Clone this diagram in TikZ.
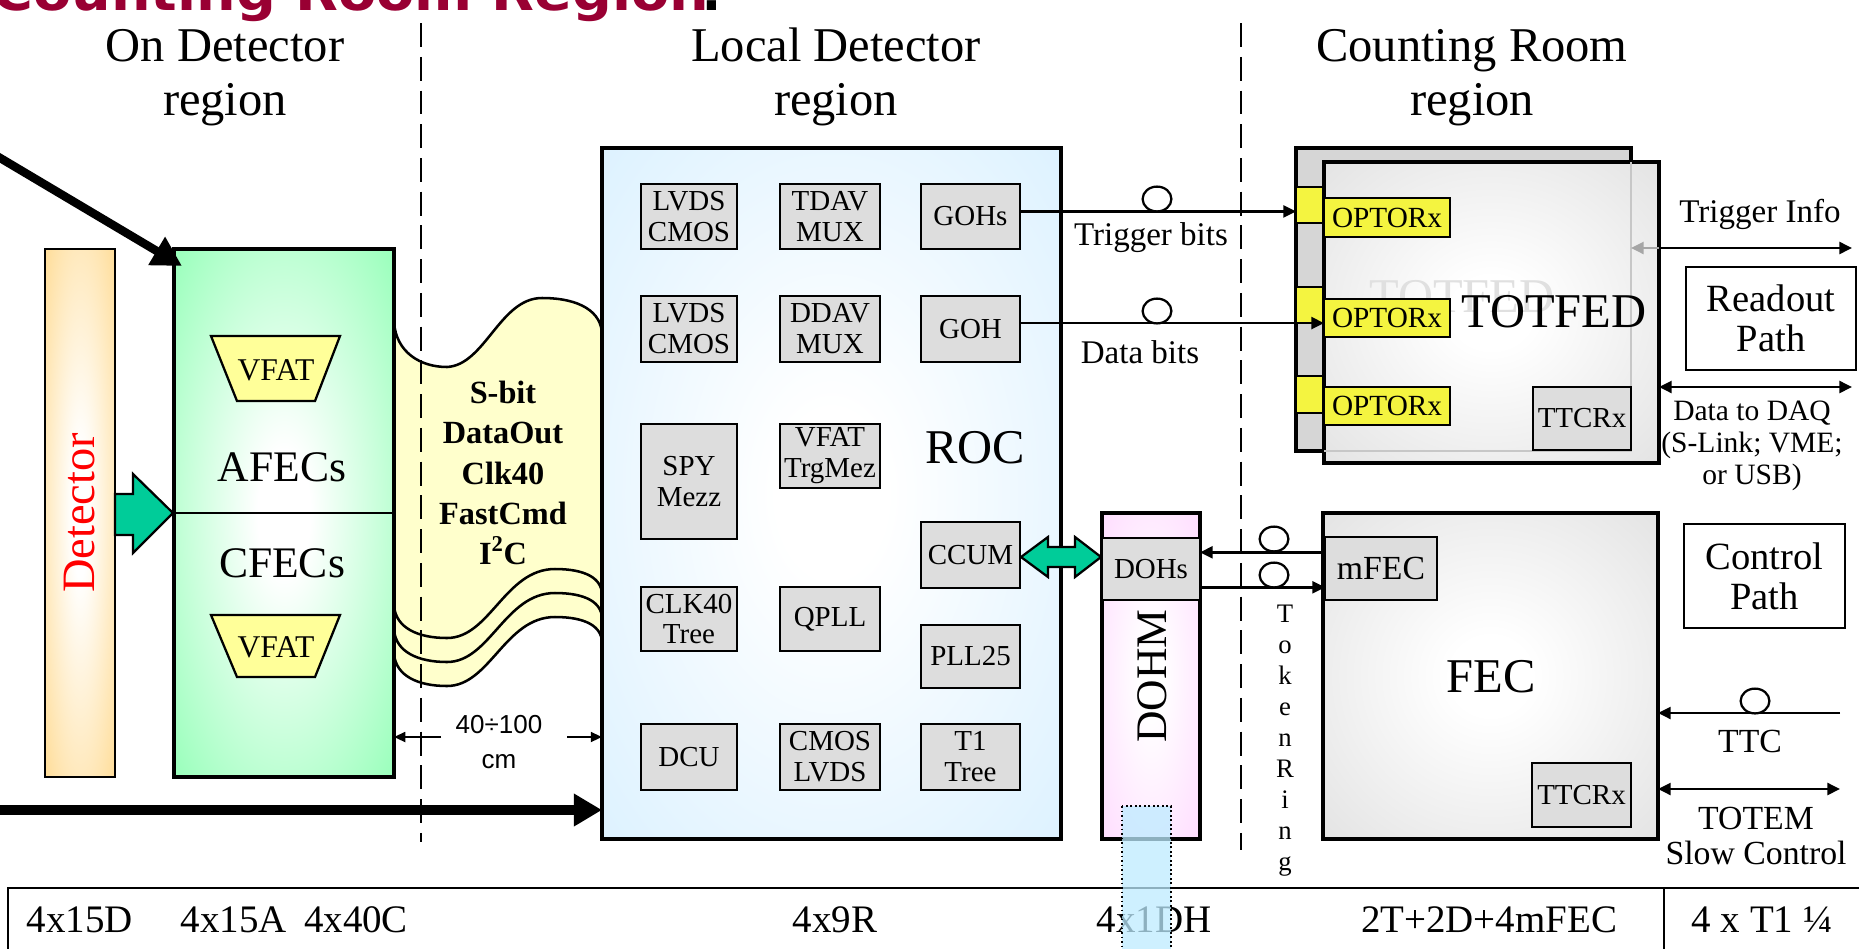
\documentclass[tikz,border=0pt]{standalone}
\usepackage{graphicx}
\usepackage{fontspec}
\setmainfont{Liberation Serif}
\setsansfont{Liberation Sans}
\newfontfamily\titlefont{DejaVu Sans}
\usetikzlibrary{arrows.meta,shapes.geometric,calc}

\definecolor{titlered}{HTML}{990033}
\definecolor{detorange}{HTML}{FFCC66}
\definecolor{fegreen}{HTML}{66FF99}
\definecolor{tealc}{HTML}{00CC99}
\definecolor{vfatyel}{HTML}{FFFF99}
\definecolor{ribbonyel}{HTML}{FFFFCC}
\definecolor{rocblue}{HTML}{CCEBFF}
\definecolor{boxgray}{HTML}{DDDDDD}
\definecolor{fedgray}{HTML}{D6D6D6}
\definecolor{optyel}{HTML}{F4F440}
\definecolor{dohmpink}{HTML}{FFCCFF}
\definecolor{dotblue}{HTML}{BDEBFF}

\newcommand\mkshade[2]{\pgfdeclareradialshading{#1}{\pgfpoint{0bp}{0bp}}{color(0bp)=(white); color(6bp)=(white); color(50bp)=(#2)}}
\mkshade{detshade}{detorange}
\mkshade{feshade}{fegreen}
\mkshade{rocshade}{rocblue}
\mkshade{fedshade}{fedgray}
\mkshade{dohmshade}{dohmpink}

\newcommand\fsz[2]{\fontsize{#1}{#2}\selectfont}
\newcommand\bx[7]{\node[#1, minimum width={(#5-#3)*0.025cm}, minimum height={(#6-#4)*0.025cm}] (#2) at ({(#3+#5)/2},{(#4+#6)/2}) {#7};}

\begin{document}
\begin{tikzpicture}[x=0.025cm,y=-0.025cm,
  sbox/.style={draw, line width=1.6pt, fill=boxgray, inner sep=0pt, outer sep=0pt, align=center, font=\fsz{20.6pt}{22pt}},
  bigframe/.style={draw, line width=2.2pt, inner sep=0pt, outer sep=0pt},
  ybox/.style={draw, line width=1.6pt, fill=optyel, inner sep=0pt, outer sep=0pt, font=\fsz{20.8pt}{22pt}},
  plainbox/.style={draw, line width=1.4pt, fill=white, inner sep=0pt, outer sep=0pt, align=center, font=\fsz{27.4pt}{28.3pt}},
  conn/.style={line width=1.8pt, -{Triangle[length=9pt,width=8.5pt]}},
  dconn/.style={line width=1.8pt, {Triangle[length=9pt,width=8.5pt]}-{Triangle[length=9pt,width=8.5pt]}},
  bigarrow/.style={line width=6pt, -{Triangle[length=21pt,width=22pt]}},
  regiondiv/.style={line width=2pt, dash pattern=on 17pt off 7pt},
  regionlabel/.style={align=center, inner sep=0pt, font=\fsz{34.5pt}{37.7pt}},
  lbl/.style={inner sep=0pt, align=center, font=\fsz{23.5pt}{25pt}},
  bigtext/.style={inner sep=0pt, font=\fsz{34.5pt}{35pt}},
  ring/.style={ellipse, draw, fill=white, line width=1.6pt, inner sep=0pt, minimum width=0.72cm, minimum height=0.62cm},
  tabtext/.style={inner sep=0pt, anchor=base, font=\fsz{27.7pt}{28pt}},
]
\useasboundingbox (0,0) rectangle (1859,948);

% title (cut at the top)
\node[anchor=base west, inner sep=0pt, text=titlered, font=\titlefont\bfseries\fsz{37pt}{40pt}] (title) at (-8,10) {\scalebox{1.07}[1]{Counting Room Region}};
\node[anchor=base, inner sep=0pt, font=\titlefont\bfseries\fsz{37pt}{40pt}] (colon) at (712,10) {:};

% region headers (anchor base = last line)
\node[regionlabel, anchor=base] (hod) at (225,115) {On Detector\\region};
\node[regionlabel, anchor=base] (hld) at (836,115) {Local Detector\\region};
\node[regionlabel, anchor=base] (hcr) at (1472,115) {Counting Room\\region};

% ribbon cable
\foreach \d in {48,24}{
  \draw[line width=1.8pt, fill=ribbonyel] (394,500) -- (394,{606+\d})
    .. controls (396,{628+\d}) and (418,{638+\d}) .. (447,{638+\d})
    .. controls (490,{638+\d}) and (505,{569+\d}) .. (555,{569+\d})
    .. controls (585,{569+\d}) and (602,{578+\d}) .. (602,{595+\d})
    -- (602,500) -- cycle;
}
\draw[line width=1.8pt, fill=ribbonyel] (394,322) .. controls (396,352) and (420,367) .. (447,367)
  .. controls (485,365) and (500,298) .. (542,298)
  .. controls (580,298) and (602,312) .. (602,335)
  -- (602,595)
  .. controls (602,578) and (585,569) .. (555,569)
  .. controls (505,569) and (490,638) .. (447,638)
  .. controls (418,638) and (396,628) .. (394,606) -- cycle;
\node[inner sep=0pt, align=center, font=\bfseries\fsz{23pt}{28.5pt}] (cablelbl) at (503,473) {S-bit\\DataOut\\Clk40\\FastCmd\\I\textsuperscript{2}C};

% detector
\bx{bigframe, line width=1.4pt, shade, shading=detshade}{det}{45}{249}{115}{777}{}
\node[rotate=90, text=red, font=\fsz{33pt}{33pt}, inner sep=0pt] (detlbl) at (det.center) {Detector};

% front-end box
\bx{bigframe, shade, shading=feshade}{fe}{174}{249}{394}{777}{}
\draw[line width=1.6pt] (fe.west) -- (fe.east);
\draw[line width=1.6pt, fill=vfatyel] (211,336) -- (340,336) -- (315,401) -- (237,401) -- cycle;
\node[inner sep=0pt, font=\fsz{22.5pt}{22pt}] (vfat1) at (276,370) {VFAT};
\draw[line width=1.6pt, fill=vfatyel] (211,615) -- (340,615) -- (315,677) -- (237,677) -- cycle;
\node[inner sep=0pt, font=\fsz{22.5pt}{22pt}] (vfat2) at (276,647) {VFAT};
\node[inner sep=0pt, font=\fsz{31pt}{31pt}] (afec) at (282,467) {AFECs};
\node[inner sep=0pt, font=\fsz{31pt}{31pt}] (cfec) at (282,563) {CFECs};
\draw[line width=1.6pt, fill=tealc] (115,494) -- (133,494) -- (133,474) -- (173,513) -- (133,553) -- (133,535) -- (115,535) -- cycle;

% ROC
\bx{bigframe, shade, shading=rocshade}{roc}{602}{148}{1061}{839}{}
\bx{sbox}{lc1}{641}{184}{737}{249}{LVDS\\CMOS}
\bx{sbox}{tdav}{780}{184}{880}{249}{TDAV\\MUX}
\bx{sbox}{gohs}{921}{184}{1020}{249}{GOHs}
\bx{sbox}{lc2}{641}{296}{737}{362}{LVDS\\CMOS}
\bx{sbox}{ddav}{780}{296}{880}{362}{DDAV\\MUX}
\bx{sbox}{goh}{921}{296}{1020}{362}{GOH}
\bx{sbox}{spy}{641}{424}{737}{539}{SPY\\Mezz}
\bx{sbox}{vtrg}{780}{424}{880}{488}{VFAT\\TrgMez}
\bx{sbox}{ccum}{921}{522}{1020}{588}{CCUM}
\bx{sbox}{clk}{641}{587}{737}{651}{CLK40\\Tree}
\bx{sbox}{qpll}{780}{587}{880}{651}{QPLL}
\bx{sbox}{pll}{921}{625}{1020}{688}{PLL25}
\bx{sbox}{dcu}{641}{724}{737}{790}{DCU}
\bx{sbox}{cl}{780}{724}{880}{790}{CMOS\\LVDS}
\bx{sbox}{t1}{921}{724}{1020}{790}{T1\\Tree}
\node[bigtext] (roclbl) at (975,448) {ROC};

% DOHM
\bx{bigframe, shade, shading=dohmshade}{dohm}{1102}{513}{1200}{839}{}
\bx{sbox}{dohs}{1102}{538}{1200}{600}{DOHs}
\node[rotate=90, inner sep=0pt, font=\fsz{31pt}{31pt}] (dohmlbl) at (1152,676) {DOHM};
\draw[line width=1.6pt, fill=tealc] (1021,557) -- (1048,537) -- (1048,547) -- (1075,547) -- (1075,537) -- (1101,557) -- (1075,577) -- (1075,567) -- (1048,567) -- (1048,577) -- cycle;

% TOTFED
\bx{bigframe, fill=fedgray}{fedback}{1296}{148}{1631}{451}{}
\bx{ybox}{tab1}{1296}{187}{1324}{223}{}
\bx{ybox}{tab2}{1296}{287}{1324}{323}{}
\bx{ybox}{tab3}{1296}{376}{1324}{413}{}
\bx{bigframe, shade, shading=fedshade}{fed}{1324}{162}{1659}{463}{}
\draw[line width=2pt, black!22] (fedback.north east |- fed.north) -- (fedback.south east) -- (fedback.south east -| fed.west);
\node[bigtext, text=black!12] (ghost) at (1462,297) {TOTFED};
\bx{ybox}{opt1}{1324}{198}{1450}{237}{OPTORx}
\bx{ybox}{opt2}{1324}{299}{1450}{337}{OPTORx}
\bx{ybox}{opt3}{1324}{387}{1450}{425}{OPTORx}
\bx{sbox}{ttcr1}{1533}{387}{1631}{450}{TTCRx}
\node[bigtext] (fedlbl) at (1554,312) {TOTFED};

% FEC
\bx{bigframe, shade, shading=fedshade}{fec}{1323}{513}{1658}{839}{}
\bx{sbox, font=\fsz{24pt}{24pt}}{mfec}{1325}{537}{1437}{600}{mFEC}
\bx{sbox}{ttcr2}{1532}{763}{1631}{827}{TTCRx}
\node[bigtext] (feclbl) at (1491,677) {FEC};

% path boxes
\bx{plainbox}{readout}{1686}{267}{1856}{370}{Readout\\Path}
\bx{plainbox}{control}{1684}{524}{1845}{628}{Control\\Path}

% region dividers
\draw[regiondiv] (421,23) -- (421,842);
\draw[regiondiv] (1241,23) -- (1241,850);

% thick arrows
\coordinate (inA) at (-20,146);
\draw[bigarrow] (inA) -- ([shift={(8,17)}]fe.north west);
\coordinate (inB) at (-20,810);
\draw[line width=7pt, -{Triangle[length=20pt,width=22pt]}] (inB) -- (inB -| roc.west);

% distance
\coordinate (dl) at (441,737);
\coordinate (dr) at (567,737);
\draw[line width=1.6pt, -{Triangle[length=8pt,width=7pt]}] (dl) -- (dl -| fe.east);
\draw[line width=1.6pt, -{Triangle[length=8pt,width=7pt]}] (dr) -- (dr -| roc.west);
\node[inner sep=0pt, align=center, font=\sffamily\fsz{18.5pt}{25pt}] (dimlbl) at (499,742) {40÷100\\cm};

% optical links to TOTFED
\coordinate (trigL) at ([yshift=3.6pt]gohs.east);
\draw[conn] (trigL) -- (trigL -| tab1.west);
\coordinate (dataL) at ([yshift=4.2pt]goh.east);
\draw[conn] (dataL) -- (dataL -| opt2.west);
\node[ring] (ring1) at (1157,199) {};
\node[ring] (ring2) at (1157,311) {};
\node[lbl] (trigbits) at (1151,238) {Trigger bits};
\node[lbl] (databits) at (1140,352) {Data bits};

% token ring
\coordinate (tokU) at ([yshift=11.5pt]mfec.west);
\draw[conn] (tokU) -- (tokU -| dohs.east);
\coordinate (tokD) at ([yshift=-13pt]dohs.east);
\draw[conn] (tokD) -- (tokD -| mfec.west);
\node[ring] (ring3) at (1274,539) {};
\node[ring] (ring4) at (1274,575) {};
\node[inner sep=0pt, align=center, anchor=base, font=\fsz{19pt}{22pt}] (token) at (1285,870) {T\\o\\k\\e\\n\\R\\i\\n\\g};

% outputs of TOTFED
\coordinate (tiend) at (1852,248);
\draw[line width=1.8pt, black!35, -{Triangle[length=9pt,width=8.5pt]}] (tiend -| fed.east) -- (tiend -| fedback.east);
\draw[conn] (tiend -| fed.east) -- (tiend);
\node[lbl] (triginfo) at (1760,214) {Trigger Info};
\coordinate (daqend) at (1852,387);
\draw[dconn] (daqend -| fed.east) -- (daqend);
\node[lbl, font=\fsz{21pt}{23pt}] (daq) at (1752,446) {Data to DAQ\\(S-Link; VME;\\or USB)};

% FEC I/O
\coordinate (ttcin) at (1840,713);
\draw[conn] (ttcin) -- (ttcin -| fec.east);
\node[ring] (ring5) at (1755,701) {};
\node[lbl, font=\fsz{24pt}{24pt}] (ttclbl) at (1750,741) {TTC};
\coordinate (scend) at (1840,789);
\draw[dconn] (scend -| fec.east) -- (scend);
\node[lbl, font=\fsz{24pt}{25pt}] (sclbl) at (1756,836) {TOTEM\\Slow Control};

% bottom table
\draw[line width=2pt] (1859,888) -- (8,888) -- (8,960);
\draw[line width=2pt] (1664,888) -- (1664,960);
\node[tabtext] (c1) at (80,932) {4x15D};
\node[tabtext] (c2) at (234,932) {4x15A};
\node[tabtext] (c3) at (356,932) {4x40C};
\node[tabtext] (c4) at (835,932) {4x9R};
\node[tabtext] (c5) at (1154,932) {4x1DH};
\node[tabtext] (c6) at (1489,932) {2T+2D+4mFEC};
\node[tabtext] (c7) at (1762,932) {4 x T1 ¼};

% dotted light-blue strip
\draw[dotted, line width=1.2pt, fill=dotblue, fill opacity=0.75] (1122,806) rectangle (1171,960);
\end{tikzpicture}
\end{document}
